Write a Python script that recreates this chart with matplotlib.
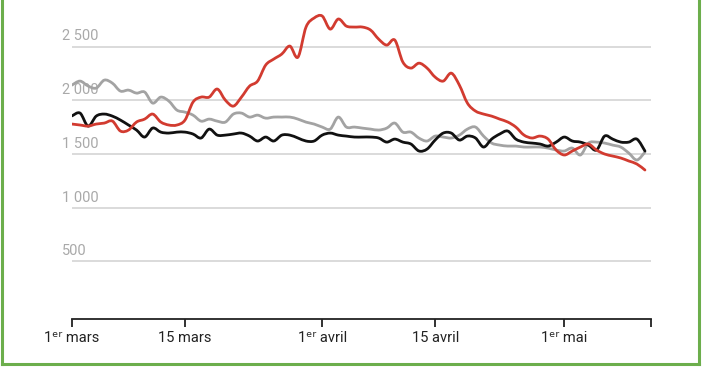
import matplotlib.pyplot as plt
from matplotlib.path import Path
from matplotlib.patches import PathPatch
from matplotlib.lines import Line2D
import matplotlib.transforms as mtransforms

# daily values, 1 mars (day 0) -> 11 mai (day 71)
days = list(range(72))

red_2020 = [1779, 1770, 1760, 1779, 1788, 1807, 1714, 1723, 1798, 1825,
            1872, 1798, 1770, 1770, 1816, 1984, 2030, 2030, 2105, 2002,
            1946, 2030, 2132, 2179, 2328, 2384, 2431, 2505, 2402, 2682,
            2766, 2785, 2663, 2757, 2691, 2682, 2682, 2654, 2570, 2514,
            2561, 2356, 2300, 2346, 2300, 2216, 2179, 2253, 2142, 1974,
            1900, 1872, 1853, 1825, 1798, 1751, 1677, 1649, 1667, 1639,
            1537, 1491, 1528, 1565, 1593, 1537, 1500, 1481, 1463, 1435,
            1407, 1351]

black_series = [1855, 1881, 1760, 1853, 1872, 1853, 1816, 1770, 1723, 1658,
                1742, 1704, 1695, 1704, 1704, 1686, 1649, 1732, 1676, 1676,
                1686, 1695, 1667, 1621, 1658, 1621, 1676, 1676, 1649, 1621,
                1621, 1676, 1695, 1676, 1667, 1658, 1658, 1658, 1649, 1611,
                1639, 1611, 1593, 1528, 1546, 1630, 1695, 1695, 1630, 1667,
                1649, 1565, 1639, 1686, 1714, 1639, 1611, 1602, 1593, 1574,
                1611, 1658, 1621, 1611, 1583, 1537, 1667, 1639, 1611, 1611,
                1639, 1528]

gray_series = [2142, 2179, 2133, 2114, 2188, 2160, 2086, 2095, 2067, 2077,
               1974, 2030, 1993, 1909, 1890, 1862, 1806, 1825, 1806, 1797,
               1872, 1881, 1844, 1862, 1834, 1844, 1844, 1844, 1825, 1797,
               1779, 1751, 1732, 1844, 1751, 1751, 1741, 1732, 1723, 1741,
               1788, 1704, 1704, 1648, 1621, 1667, 1658, 1649, 1676, 1732,
               1751, 1667, 1602, 1583, 1574, 1574, 1565, 1565, 1565, 1555,
               1537, 1528, 1555, 1491, 1602, 1611, 1602, 1583, 1565, 1509,
               1444, 1518]

y_ticks = [500, 1000, 1500, 2000, 2500]
y_labels = ["500", "1 000", "1 500", "2 000", "2 500"]
x_ticks = [0, 14, 31, 45, 61, 71.75]
x_labels = ["1ᵉʳ mars", "15 mars", "1ᵉʳ avril", "15 avril", "1ᵉʳ mai", ""]


def smooth_path(xs, ys):
    # Catmull-Rom style bezier through the daily points
    pts = list(zip(xs, ys))
    verts = [pts[0]]
    codes = [Path.MOVETO]
    n = len(pts)
    for i in range(n - 1):
        p0 = pts[max(i - 1, 0)]
        p1 = pts[i]
        p2 = pts[i + 1]
        p3 = pts[min(i + 2, n - 1)]
        c1 = (p1[0] + (p2[0] - p0[0]) / 6, p1[1] + (p2[1] - p0[1]) / 6)
        c2 = (p2[0] - (p3[0] - p1[0]) / 6, p2[1] - (p3[1] - p1[1]) / 6)
        verts += [c1, c2, p2]
        codes += [Path.CURVE4] * 3
    return Path(verts, codes)


plt.rcParams['font.family'] = ['Roboto', 'DejaVu Sans']

fig = plt.figure(figsize=(7.02, 3.70), dpi=100)
ax = fig.add_axes([72 / 702, 51 / 370, 579 / 702, 319 / 370])
ax.set_xlim(0, 71.75)
ax.set_ylim(-36, 2934)

for v, lab in zip(y_ticks, y_labels):
    ax.axhline(v, color='#d8d8d8', linewidth=1.3, zorder=1)
    ax.text(-0.017, v + 30, lab, transform=mtransforms.blended_transform_factory(ax.transAxes, ax.transData),
            ha='left', va='bottom', fontsize=10.5, color='#a9a9a9')

for series, col in [(gray_series, '#a3a3a3'), (black_series, '#111111'), (red_2020, '#d23b30')]:
    ax.add_patch(PathPatch(smooth_path(days, series), fill=False, edgecolor=col,
                           linewidth=2.0, capstyle='round', joinstyle='round', zorder=3))

for s in ['left', 'right', 'top']:
    ax.spines[s].set_visible(False)
ax.spines['bottom'].set_linewidth(1.3)
ax.spines['bottom'].set_color('#222222')
ax.set_yticks([])
ax.set_xticks(x_ticks)
ax.set_xticklabels(x_labels, fontsize=10.5, color='#222222')
ax.tick_params(axis='x', direction='out', length=6, width=1.3, color='#222222', pad=3)

# green frame
green = '#6cae4c'
fig.add_artist(Line2D([2 / 702, 2 / 702], [6 / 370, 1], transform=fig.transFigure, color=green, linewidth=2.2))
fig.add_artist(Line2D([699 / 702, 699 / 702], [6 / 370, 1], transform=fig.transFigure, color=green, linewidth=2.2))
fig.add_artist(Line2D([2 / 702, 699 / 702], [6 / 370, 6 / 370], transform=fig.transFigure, color=green, linewidth=2.2))

fig.savefig("out.png", dpi=100)
